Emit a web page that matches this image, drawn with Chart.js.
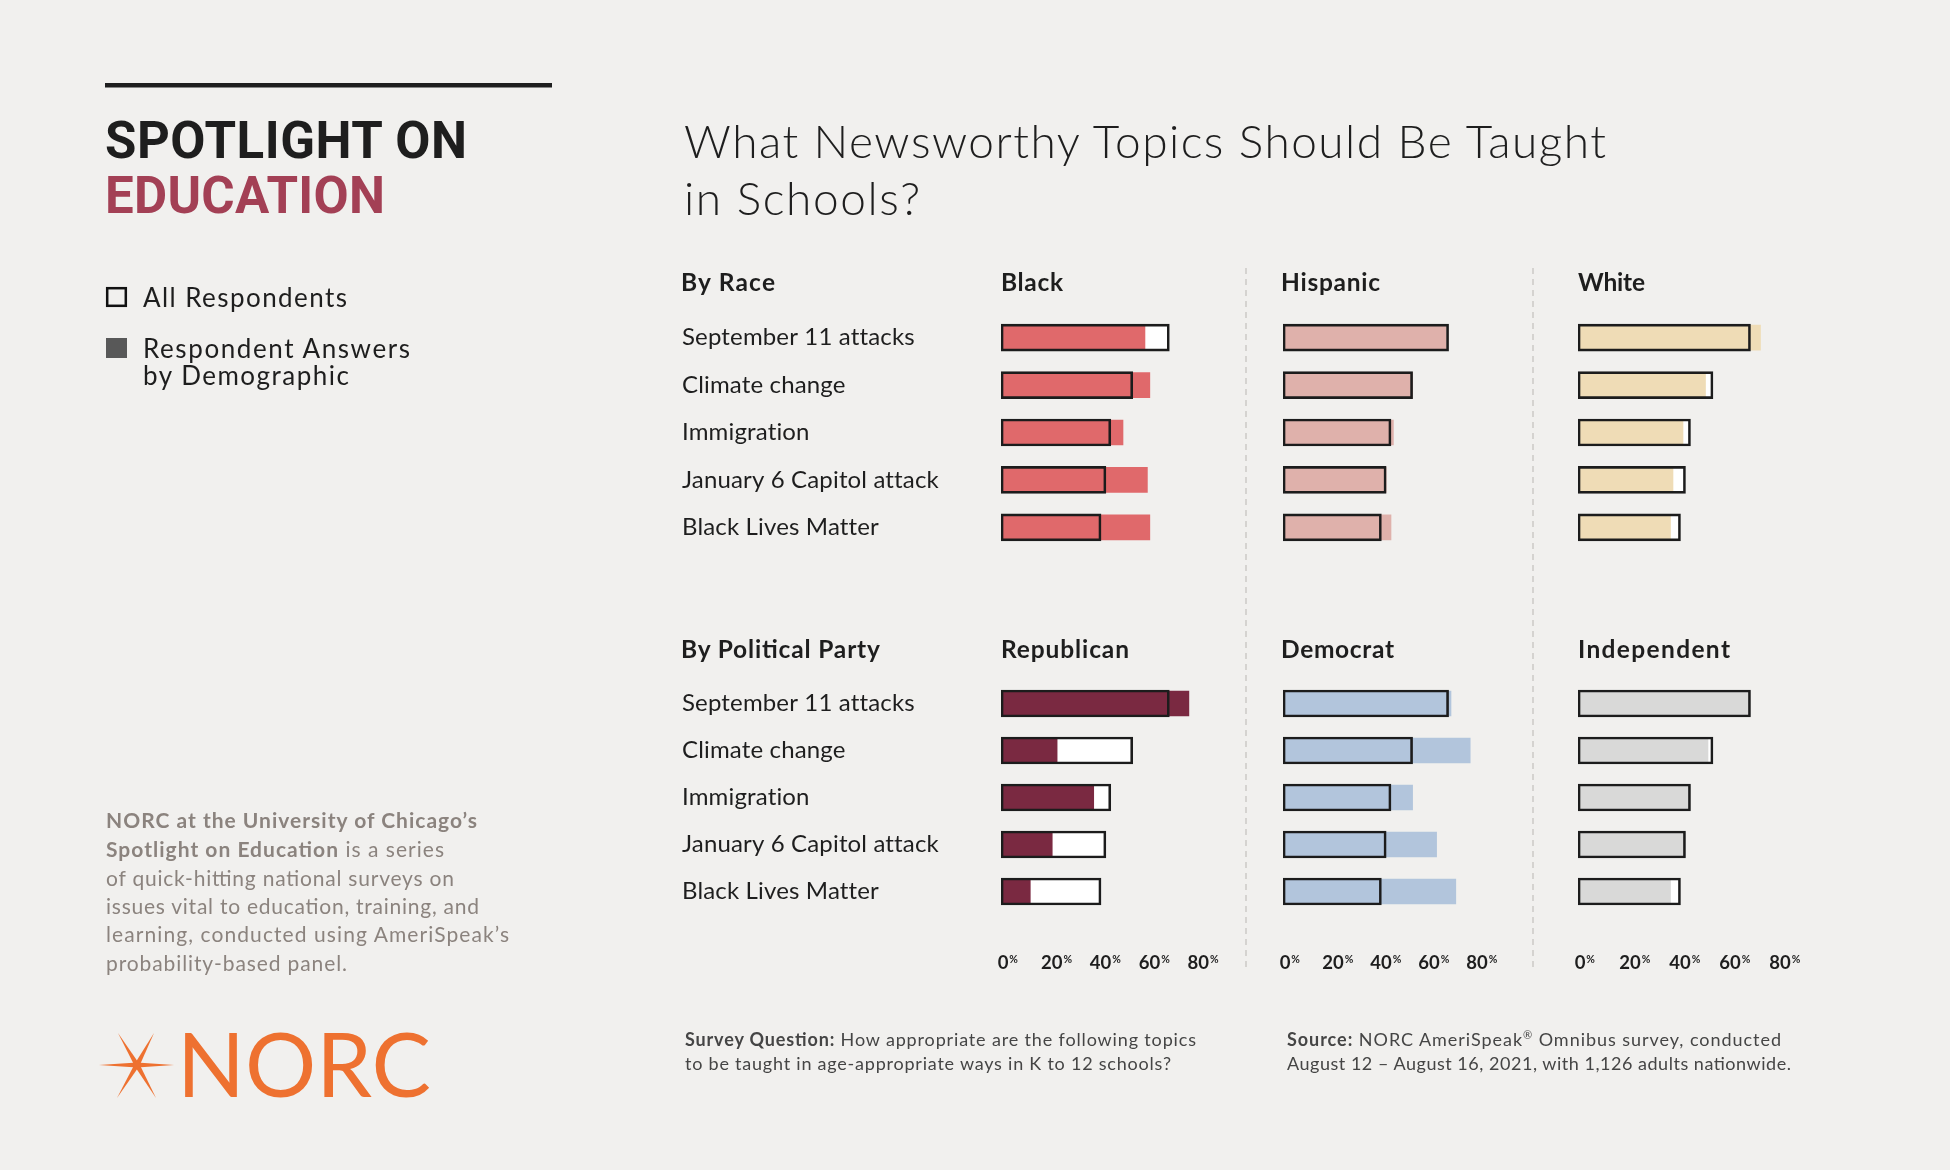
<!DOCTYPE html>
<html>
<head>
<meta charset="utf-8">
<title>What Newsworthy Topics Should Be Taught in Schools?</title>
<script src="https://cdn.jsdelivr.net/npm/chart.js@4.4.0/dist/chart.umd.min.js"></script>
<style>
  html, body { margin: 0; padding: 0; background: #f1f0ee; }
  #page { position: relative; width: 1950px; height: 1170px; background: #f1f0ee; overflow: hidden; }
  #page canvas { position: absolute; }
  #overlay { position: absolute; left: 0; top: 0; pointer-events: none; }
  .spot { font: 700 51px Roboto; fill: #1e1e1e; }
  .edu { font: 700 51px Roboto; fill: #a34055; }
  .leg { font: 400 26px Lato; fill: #1e1e1e; }
  .title { font: 300 46px Lato; fill: #1e1e1e; }
  .hd { font: 700 24.5px Lato; fill: #1e1e1e; }
  .para { font: 400 21px Lato; fill: #8b837e; }
  .foot { font: 400 18px Lato; fill: #454545; }
  .logo { font: 400 90px Lato; fill: #ee7130; }
</style>
</head>
<body>
<div id="page">
  <canvas id="cBlack"></canvas>
  <canvas id="cHispanic"></canvas>
  <canvas id="cWhite"></canvas>
  <canvas id="cRepublican"></canvas>
  <canvas id="cDemocrat"></canvas>
  <canvas id="cIndependent"></canvas>

  <svg id="overlay" width="1950" height="1170" xmlns="http://www.w3.org/2000/svg">
    <!-- left column -->
    <rect x="105" y="83" width="447" height="4.5" fill="#1e1e1e"/>
    <text class="spot" x="105" y="158" textLength="362" lengthAdjust="spacing">SPOTLIGHT ON</text>
    <text class="edu" x="105" y="213" textLength="280" lengthAdjust="spacing">EDUCATION</text>

    <rect x="107.2" y="288.2" width="18.6" height="17.6" fill="none" stroke="#111" stroke-width="2.5"/>
    <text class="leg" x="143" y="307" textLength="204" lengthAdjust="spacing">All Respondents</text>
    <rect x="106" y="338" width="21" height="20" fill="#585858"/>
    <text class="leg" x="143" y="358" textLength="267" lengthAdjust="spacing">Respondent Answers</text>
    <text class="leg" x="143" y="385" textLength="206" lengthAdjust="spacing">by Demographic</text>

    <text class="para" x="106" y="828" textLength="371" lengthAdjust="spacing"><tspan font-weight="700">NORC at the University of Chicago’s</tspan></text>
    <text class="para" x="106" y="857" textLength="338" lengthAdjust="spacing"><tspan font-weight="700">Spotlight on Education</tspan> is a series</text>
    <text class="para" x="106" y="886" textLength="348" lengthAdjust="spacing">of quick-hitting national surveys on</text>
    <text class="para" x="106" y="914" textLength="373" lengthAdjust="spacing">issues vital to education, training, and</text>
    <text class="para" x="106" y="942" textLength="403" lengthAdjust="spacing">learning, conducted using AmeriSpeak’s</text>
    <text class="para" x="106" y="971" textLength="241" lengthAdjust="spacing">probability-based panel.</text>

    <g id="star" fill="#ee7130"></g>
    <text class="logo" x="177" y="1097" textLength="254" lengthAdjust="spacingAndGlyphs">NORC</text>

    <!-- chart titles -->
    <text class="title" x="684" y="158" textLength="922" lengthAdjust="spacing">What Newsworthy Topics Should Be Taught</text>
    <text class="title" x="684" y="215" textLength="236" lengthAdjust="spacing">in Schools?</text>

    <text class="hd" x="681" y="291" textLength="94" lengthAdjust="spacing">By Race</text>
    <text class="hd" x="1001" y="291" textLength="62" lengthAdjust="spacing">Black</text>
    <text class="hd" x="1281" y="291" textLength="99" lengthAdjust="spacing">Hispanic</text>
    <text class="hd" x="1578" y="291" textLength="67" lengthAdjust="spacing">White</text>

    <text class="hd" x="681" y="658" textLength="199" lengthAdjust="spacing">By Political Party</text>
    <text class="hd" x="1001" y="658" textLength="128" lengthAdjust="spacing">Republican</text>
    <text class="hd" x="1281" y="658" textLength="113" lengthAdjust="spacing">Democrat</text>
    <text class="hd" x="1578" y="658" textLength="152" lengthAdjust="spacing">Independent</text>

    <line x1="1246" y1="268" x2="1246" y2="972" stroke="#cbc9c6" stroke-width="1.5" stroke-dasharray="6 5"/>
    <line x1="1533" y1="268" x2="1533" y2="972" stroke="#cbc9c6" stroke-width="1.5" stroke-dasharray="6 5"/>

    <!-- footer -->
    <text class="foot" x="685" y="1046" textLength="511" lengthAdjust="spacing"><tspan font-weight="700">Survey Question:</tspan> How appropriate are the following topics</text>
    <text class="foot" x="685" y="1070" textLength="486" lengthAdjust="spacing">to be taught in age-appropriate ways in K to 12 schools?</text>
    <text class="foot" x="1287" y="1046" textLength="494" lengthAdjust="spacing"><tspan font-weight="700">Source:</tspan> NORC AmeriSpeak<tspan font-size="11" dy="-7">®</tspan><tspan dy="7"> Omnibus survey, conducted</tspan></text>
    <text class="foot" x="1287" y="1070" textLength="504" lengthAdjust="spacing">August 12 – August 16, 2021, with 1,126 adults nationwide.</text>
  </svg>
</div>

<script>
'use strict';

// share who say each topic is appropriate to teach (%)
var topics = ['September 11 attacks', 'Climate change', 'Immigration', 'January 6 Capitol attack', 'Black Lives Matter'];
var allRespondents = [69, 54, 45, 43, 41];
var black = [59, 61, 50, 60, 61];
var hispanic = [68, 54, 46, 43, 45];
var white = [73, 51, 42, 38, 37];
var republican = [77, 23, 38, 21, 12];
var democrat = [70, 78, 54, 64, 72];
var independent = [69, 52, 45, 43, 37];
var pctTicks = [0, 20, 40, 60, 80];

// slight tracking for the row labels, Lato runs a bit narrow here
var tracking = {
    id: 'tracking',
    beforeDraw: function (chart) { chart.ctx.letterSpacing = '0.15px'; },
    afterDraw: function (chart) { chart.ctx.letterSpacing = '0px'; }
};

// tick labels with the small raised % sign
var pctAxis = {
    id: 'pctAxis',
    afterDraw: function (chart, args, opts) {
        if (!opts.show) return;
        var ctx = chart.ctx;
        var xs = chart.scales.x;
        var y = chart.chartArea.bottom + 54;
        ctx.save();
        ctx.letterSpacing = '0px';
        ctx.fillStyle = '#1e1e1e';
        pctTicks.forEach(function (v) {
            var px = xs.getPixelForValue(v);
            var s = String(v);
            ctx.font = '700 18.5px Lato';
            ctx.textAlign = 'center';
            ctx.textBaseline = 'alphabetic';
            ctx.fillText(s, px + 2, y);
            var w = ctx.measureText(s).width;
            ctx.font = '700 10.5px Lato';
            ctx.textAlign = 'left';
            ctx.fillText('%', px + 2 + w / 2 + 1, y - 6.5);
        });
        ctx.restore();
    }
};

function drawPanel(id, groupName, values, color, p) {
    var padT = 20, padB = p.axis ? 66 : 20, padX = 4;
    var canvas = document.getElementById(id);
    canvas.width = padX * 2 + p.labelW + p.areaW;
    canvas.height = padT + p.areaH + padB;
    canvas.style.left = (p.x0 - padX - p.labelW) + 'px';
    canvas.style.top = (p.top - padT) + 'px';

    var yAxis = {
        display: p.labelW > 0,
        grid: { display: false },
        border: { display: false },
        ticks: { crossAlign: 'far', color: '#1e1e1e', font: { family: 'Lato', size: 24 } }
    };
    if (p.labelW > 0) {
        yAxis.afterFit = function (scale) { scale.width = p.labelW; };
    }

    return new Chart(canvas, {
        type: 'bar',
        data: {
            labels: topics,
            datasets: [
                { label: 'base', data: allRespondents, backgroundColor: '#ffffff', barThickness: 26, order: 3 },
                { label: groupName, data: values, backgroundColor: color, barThickness: 25, order: 2 },
                {
                    label: 'All Respondents', data: allRespondents,
                    backgroundColor: 'rgba(0,0,0,0)', borderColor: '#1c1c1c',
                    borderWidth: 2, borderSkipped: false, barThickness: 27, order: 1
                }
            ]
        },
        options: {
            indexAxis: 'y',
            responsive: false,
            animation: false,
            datasets: { bar: { grouped: false } },
            layout: { padding: { left: padX, right: padX, top: padT, bottom: padB } },
            scales: {
                x: { type: 'linear', min: 0, max: 100, display: false },
                y: yAxis
            },
            plugins: {
                legend: { display: false },
                tooltip: { enabled: false },
                pctAxis: { show: !!p.axis }
            }
        },
        plugins: [tracking, pctAxis]
    });
}

var raceRow = { top: 314, areaH: 237.5 };
var partyRow = { top: 680, areaH: 235 };

drawPanel('cBlack', 'Black', black, '#e0696b', { x0: 1001, areaW: 244, labelW: 319, top: raceRow.top, areaH: raceRow.areaH });
drawPanel('cHispanic', 'Hispanic', hispanic, '#dfb1ab', { x0: 1283, areaW: 240, labelW: 0, top: raceRow.top, areaH: raceRow.areaH });
drawPanel('cWhite', 'White', white, '#efdcb6', { x0: 1578, areaW: 250, labelW: 0, top: raceRow.top, areaH: raceRow.areaH });

drawPanel('cRepublican', 'Republican', republican, '#7a2941', { x0: 1001, areaW: 244, labelW: 319, top: partyRow.top, areaH: partyRow.areaH, axis: true });
drawPanel('cDemocrat', 'Democrat', democrat, '#b2c5dc', { x0: 1283, areaW: 240, labelW: 0, top: partyRow.top, areaH: partyRow.areaH, axis: true });
drawPanel('cIndependent', 'Independent', independent, '#d9d9d8', { x0: 1578, areaW: 250, labelW: 0, top: partyRow.top, areaH: partyRow.areaH, axis: true });

// NORC star mark
(function () {
    var g = document.getElementById('star');
    var cx = 137, cy = 1065;
    var tips = [[99, 1065], [174, 1065], [118, 1033], [154, 1033], [117, 1098], [156, 1098]];
    tips.forEach(function (t) {
        var dx = t[0] - cx, dy = t[1] - cy;
        var len = Math.sqrt(dx * dx + dy * dy);
        var ux = dx / len, uy = dy / len;
        var nx = -uy * 2.6, ny = ux * 2.6;
        var pts = [
            [cx - ux * 2, cy - uy * 2], [cx + nx, cy + ny], [t[0], t[1]], [cx - nx, cy - ny]
        ].map(function (q) { return q[0].toFixed(1) + ',' + q[1].toFixed(1); }).join(' ');
        var poly = document.createElementNS('http://www.w3.org/2000/svg', 'polygon');
        poly.setAttribute('points', pts);
        g.appendChild(poly);
    });
    var dot = document.createElementNS('http://www.w3.org/2000/svg', 'circle');
    dot.setAttribute('cx', cx); dot.setAttribute('cy', cy); dot.setAttribute('r', 3.2);
    g.appendChild(dot);
})();
</script>
</body>
</html>
